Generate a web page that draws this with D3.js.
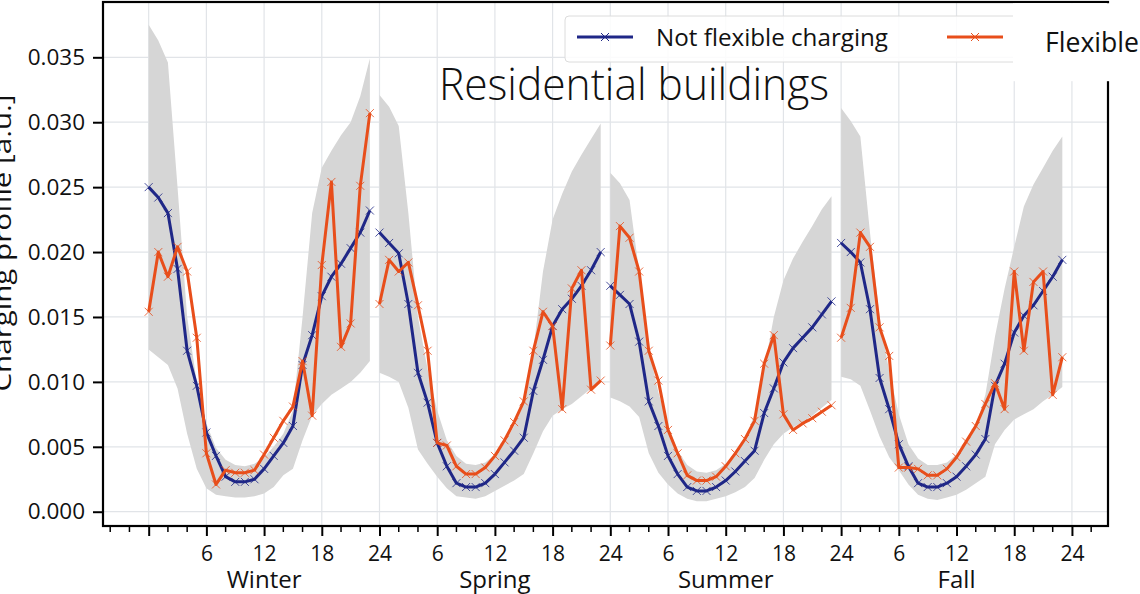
<!DOCTYPE html>
<html>
<head>
<meta charset="utf-8">
<script src="https://cdn.jsdelivr.net/npm/d3@7"></script>
<style>
  html, body { margin: 0; padding: 0; background: #fff; }
  svg { display: block; font-family: "Open Sans", "Noto Sans", sans-serif; }
</style>
</head>
<body>
<svg id="chart" width="1140" height="594"></svg>
<script>
// ---------- data ----------
const seasons = ["Winter", "Spring", "Summer", "Fall"];
const hoursPerSeason = 24;
const xTickValues = [0, 6, 12, 18, 24, 30, 36, 42, 48, 54, 60, 66, 72, 78, 84, 90, 96];
const xTickLabels = ["", "6", "12", "18", "24", "6", "12", "18", "24", "6", "12", "18", "24", "6", "12", "18", "24"];
const yTickValues = [0, 0.005, 0.010, 0.015, 0.020, 0.025, 0.030, 0.035];
const seriesNames = ["Not flexible charging", "Flexible"];

const notFlexible = [
  // Winter
  0.0250, 0.0242, 0.0230, 0.0187, 0.0124, 0.0097, 0.0061, 0.0043, 0.0027, 0.0023, 0.0023, 0.0025,
  0.0033, 0.0043, 0.0053, 0.0066, 0.0113, 0.0136, 0.0166, 0.0181, 0.0191, 0.0203, 0.0215, 0.0232,
  // Spring
  0.0215, 0.0207, 0.0199, 0.0160, 0.0107, 0.0084, 0.0053, 0.0035, 0.0022, 0.0019, 0.0019, 0.0022,
  0.0029, 0.0038, 0.0047, 0.0057, 0.0093, 0.0117, 0.0143, 0.0156, 0.0164, 0.0174, 0.0186, 0.0200,
  // Summer
  0.0174, 0.0167, 0.0160, 0.0131, 0.0085, 0.0066, 0.0043, 0.0029, 0.0019, 0.0016, 0.0016, 0.0019,
  0.0024, 0.0031, 0.0039, 0.0047, 0.0076, 0.0095, 0.0115, 0.0126, 0.0134, 0.0142, 0.0152, 0.0162,
  // Fall
  0.0207, 0.0200, 0.0192, 0.0156, 0.0103, 0.0079, 0.0052, 0.0035, 0.0022, 0.0019, 0.0019, 0.0022,
  0.0027, 0.0035, 0.0044, 0.0056, 0.0097, 0.0114, 0.0138, 0.0151, 0.0159, 0.0170, 0.0181, 0.0194
];

const flexible = [
  // Winter
  0.0154, 0.0200, 0.0181, 0.0204, 0.0185, 0.0134, 0.0045, 0.0021, 0.0032, 0.0030, 0.0030, 0.0032,
  0.0044, 0.0057, 0.0070, 0.0081, 0.0116, 0.0074, 0.0190, 0.0254, 0.0127, 0.0145, 0.0251, 0.0307,
  // Spring
  0.0160, 0.0194, 0.0185, 0.0192, 0.0159, 0.0124, 0.0053, 0.0051, 0.0035, 0.0029, 0.0029, 0.0034,
  0.0043, 0.0055, 0.0069, 0.0085, 0.0124, 0.0154, 0.0143, 0.0079, 0.0172, 0.0186, 0.0094, 0.0101,
  // Summer
  0.0128, 0.0220, 0.0211, 0.0185, 0.0124, 0.0101, 0.0063, 0.0045, 0.0028, 0.0024, 0.0024, 0.0027,
  0.0035, 0.0045, 0.0056, 0.0070, 0.0114, 0.0136, 0.0075, 0.0063, 0.0068, 0.0072, 0.0077, 0.0082,
  // Fall
  0.0134, 0.0157, 0.0215, 0.0204, 0.0142, 0.0120, 0.0034, 0.0034, 0.0033, 0.0028, 0.0028, 0.0033,
  0.0042, 0.0054, 0.0066, 0.0083, 0.0099, 0.0079, 0.0185, 0.0124, 0.0177, 0.0185, 0.0090, 0.0119
];

const bandLower = [
  // Winter
  0.0125, 0.0119, 0.0113, 0.0095, 0.0060, 0.0033, 0.0018, 0.0013, 0.0012, 0.0011, 0.0011, 0.0012,
  0.0014, 0.0019, 0.0028, 0.0033, 0.0055, 0.0074, 0.0083, 0.0090, 0.0095, 0.0100, 0.0107, 0.0116,
  // Spring
  0.0107, 0.0104, 0.0100, 0.0080, 0.0048, 0.0037, 0.0027, 0.0018, 0.0012, 0.0011, 0.0010, 0.0012,
  0.0016, 0.0020, 0.0024, 0.0029, 0.0045, 0.0062, 0.0074, 0.0079, 0.0083, 0.0089, 0.0095, 0.0101,
  // Summer
  0.0088, 0.0085, 0.0081, 0.0073, 0.0045, 0.0030, 0.0021, 0.0014, 0.0010, 0.0008, 0.0008, 0.0010,
  0.0012, 0.0015, 0.0019, 0.0026, 0.0040, 0.0052, 0.0060, 0.0065, 0.0069, 0.0074, 0.0080, 0.0086,
  // Fall
  0.0104, 0.0102, 0.0097, 0.0078, 0.0058, 0.0042, 0.0032, 0.0021, 0.0013, 0.0010, 0.0009, 0.0011,
  0.0013, 0.0017, 0.0022, 0.0027, 0.0052, 0.0063, 0.0071, 0.0075, 0.0079, 0.0085, 0.0090, 0.0096
];

const bandUpper = [
  // Winter
  0.0375, 0.0363, 0.0346, 0.0250, 0.0150, 0.0100, 0.0068, 0.0049, 0.0040, 0.0036, 0.0035, 0.0037,
  0.0042, 0.0050, 0.0060, 0.0078, 0.0150, 0.0230, 0.0265, 0.0278, 0.0290, 0.0300, 0.0320, 0.0349,
  // Spring
  0.0321, 0.0312, 0.0297, 0.0230, 0.0150, 0.0110, 0.0078, 0.0055, 0.0043, 0.0037, 0.0036, 0.0038,
  0.0044, 0.0053, 0.0066, 0.0085, 0.0125, 0.0185, 0.0225, 0.0245, 0.0262, 0.0275, 0.0287, 0.0299,
  // Summer
  0.0261, 0.0253, 0.0240, 0.0185, 0.0125, 0.0092, 0.0066, 0.0047, 0.0036, 0.0031, 0.0030, 0.0032,
  0.0037, 0.0045, 0.0056, 0.0075, 0.0110, 0.0150, 0.0178, 0.0195, 0.0208, 0.0220, 0.0233, 0.0243,
  // Fall
  0.0311, 0.0301, 0.0289, 0.0215, 0.0150, 0.0108, 0.0075, 0.0052, 0.0041, 0.0036, 0.0036, 0.0038,
  0.0044, 0.0053, 0.0066, 0.0090, 0.0135, 0.0172, 0.0204, 0.0235, 0.0252, 0.0265, 0.0278, 0.0289
];

// ---------- drawing ----------
const svg = d3.select("#chart");
const mLeft = 103, mRight = 1108, mTop = 2, mBottom = 526;
const navy = "#1f2787", orange = "#e84e1b", bandColor = "#d6d6d6", gridColor = "#e1e4e8";

const x = d3.scaleLinear().domain([-4.75, 99.75]).range([mLeft, mRight]);
const y = d3.scaleLinear().domain([-0.0011, 0.03926]).range([mBottom, mTop]);

// grid
const grid = svg.append("g");
grid.selectAll("line.gx").data(xTickValues).join("line")
  .attr("x1", d => x(d)).attr("x2", d => x(d)).attr("y1", mTop).attr("y2", mBottom)
  .attr("stroke", gridColor).attr("stroke-width", 1.2);
grid.selectAll("line.gy").data(yTickValues).join("line")
  .attr("x1", mLeft).attr("x2", mRight).attr("y1", d => y(d)).attr("y2", d => y(d))
  .attr("stroke", gridColor).attr("stroke-width", 1.2);

const idx = d3.range(notFlexible.length);
const plot = svg.append("g");

seasons.forEach((s, si) => {
  const ids = idx.slice(si * hoursPerSeason, (si + 1) * hoursPerSeason);
  const area = d3.area().x(i => x(i)).y0(i => y(bandLower[i])).y1(i => y(bandUpper[i]));
  plot.append("path").attr("d", area(ids)).attr("fill", bandColor).attr("stroke", "none");
});

function drawSeries(values, color) {
  seasons.forEach((s, si) => {
    const ids = idx.slice(si * hoursPerSeason, (si + 1) * hoursPerSeason);
    const line = d3.line().x(i => x(i)).y(i => y(values[i]));
    plot.append("path").attr("d", line(ids)).attr("fill", "none")
      .attr("stroke", color).attr("stroke-width", 3).attr("stroke-linejoin", "round");
    const m = 4;
    plot.append("g").selectAll("path").data(ids).join("path")
      .attr("d", i => `M${x(i)-m},${y(values[i])-m}L${x(i)+m},${y(values[i])+m}M${x(i)-m},${y(values[i])+m}L${x(i)+m},${y(values[i])-m}`)
      .attr("stroke", color).attr("stroke-width", 1).attr("opacity", 0.8);
  });
}
drawSeries(notFlexible, navy);
drawSeries(flexible, orange);

// axes
const xAxis = d3.axisBottom(x).tickValues(xTickValues)
  .tickFormat((d, i) => xTickLabels[i]).tickSize(10).tickPadding(6);
const gx = svg.append("g").attr("transform", `translate(0,${mBottom})`).call(xAxis);
gx.select(".domain").remove();
gx.selectAll("line").attr("stroke", "#000").attr("stroke-width", 2);
gx.selectAll("text").attr("font-size", 21).attr("fill", "#111")
  .attr("y", 35).attr("dy", 0)
  .attr("font-family", "'Open Sans', sans-serif");

const minorTicks = d3.range(-4, 100, 2).filter(v => v % 6 !== 0);
svg.append("g").selectAll("line").data(minorTicks).join("line")
  .attr("x1", d => x(d)).attr("x2", d => x(d)).attr("y1", mBottom).attr("y2", mBottom + 6)
  .attr("stroke", "#000").attr("stroke-width", 1.5);

const yAxis = d3.axisLeft(y).tickValues(yTickValues).tickFormat(d3.format(".3f")).tickSize(10).tickPadding(8);
const gy = svg.append("g").attr("transform", `translate(${mLeft},0)`).call(yAxis);
gy.select(".domain").remove();
gy.selectAll("line").attr("stroke", "#000").attr("stroke-width", 2);
gy.selectAll("text").attr("font-size", 22.5).attr("fill", "#111")
  .attr("font-family", "'Open Sans', sans-serif");

// season labels
svg.append("g").selectAll("text").data(seasons).join("text")
  .attr("x", (d, i) => x(i * hoursPerSeason + 12)).attr("y", 587.5)
  .attr("text-anchor", "middle").attr("font-size", 24).attr("fill", "#111")
  .text(d => d);

// spines
svg.append("rect").attr("x", mLeft).attr("y", mTop).attr("width", mRight - mLeft).attr("height", mBottom - mTop)
  .attr("fill", "none").attr("stroke", "#000").attr("stroke-width", 2.2);

// y label (partially cut at the left edge, as in the source image)
svg.append("text").attr("transform", "translate(11,243) rotate(-90)")
  .attr("text-anchor", "middle").attr("font-size", 23).attr("fill", "#111")
  .attr("textLength", 297).attr("lengthAdjust", "spacingAndGlyphs")
  .text("Charging profile [a.u.]");

// legend box
svg.append("rect").attr("x", 565).attr("y", 16).attr("width", 520).attr("height", 46)
  .attr("rx", 4).attr("fill", "#fff").attr("fill-opacity", 0.85)
  .attr("stroke", "#dcdcdc").attr("stroke-width", 1);
function legendEntry(x0, x1, yy, color) {
  svg.append("line").attr("x1", x0).attr("x2", x1).attr("y1", yy).attr("y2", yy)
    .attr("stroke", color).attr("stroke-width", 3);
  const cx = (x0 + x1) / 2, m = 4;
  svg.append("path").attr("d", `M${cx-m},${yy-m}L${cx+m},${yy+m}M${cx-m},${yy+m}L${cx+m},${yy-m}`)
    .attr("stroke", color).attr("stroke-width", 1);
}
legendEntry(577, 633, 37, navy);
svg.append("text").attr("x", 656).attr("y", 46).attr("font-size", 23).attr("fill", "#111")
  .attr("textLength", 232).attr("lengthAdjust", "spacingAndGlyphs").text(seriesNames[0]);
legendEntry(947, 1003, 37, orange);

// white patch covering the right part of legend
svg.append("rect").attr("x", 1013).attr("y", 3.2).attr("width", 127).attr("height", 78).attr("fill", "#fff");
svg.append("text").attr("x", 1045).attr("y", 52).attr("font-size", 27).attr("fill", "#111")
  .attr("textLength", 94).attr("lengthAdjust", "spacingAndGlyphs").text(seriesNames[1]);

// title
svg.append("text").attr("x", 439).attr("y", 100).attr("font-size", 44).attr("font-weight", 300)
  .attr("fill", "#111").attr("textLength", 390).attr("lengthAdjust", "spacingAndGlyphs")
  .text("Residential buildings");
</script>
</body>
</html>
